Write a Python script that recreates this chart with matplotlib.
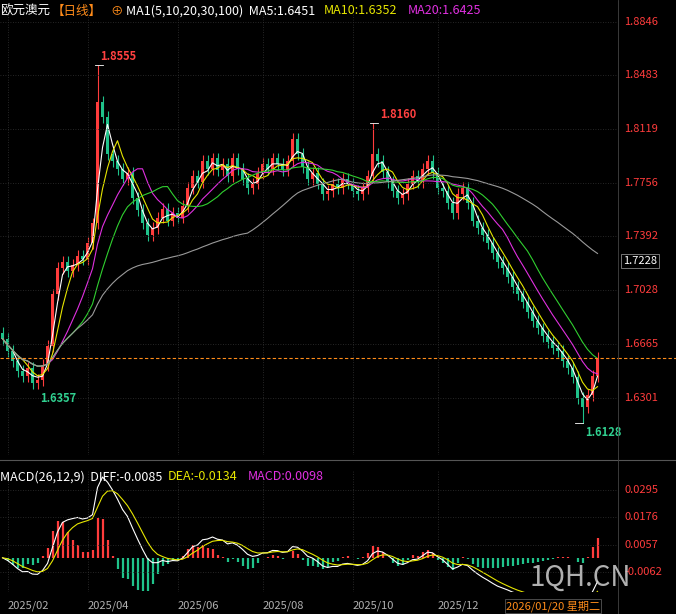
import matplotlib
matplotlib.use("Agg")
import matplotlib.pyplot as plt
import numpy as np
import pandas as pd

plt.rcParams['font.family'] = ['Noto Sans CJK SC', 'DejaVu Sans']

closes = [1.670,1.662,1.655,1.648,1.645,1.650,1.640,1.642,1.652,1.665,
          1.700,1.718,1.722,1.716,1.720,1.726,1.724,1.735,1.748,1.830,
          1.820,1.795,1.790,1.785,1.778,1.782,1.765,1.757,1.748,1.740,
          1.745,1.752,1.758,1.750,1.755,1.752,1.760,1.772,1.780,1.776,
          1.790,1.785,1.792,1.784,1.788,1.780,1.792,1.785,1.778,1.772,
          1.775,1.782,1.788,1.785,1.792,1.788,1.784,1.790,1.805,1.795,
          1.786,1.778,1.782,1.775,1.768,1.770,1.775,1.772,1.778,1.775,
          1.770,1.768,1.772,1.780,1.795,1.790,1.783,1.776,1.770,1.765,
          1.768,1.775,1.780,1.776,1.785,1.790,1.782,1.772,1.770,1.762,
          1.755,1.768,1.772,1.762,1.750,1.745,1.740,1.735,1.728,1.722,
          1.718,1.712,1.705,1.700,1.695,1.688,1.682,1.677,1.672,1.668,
          1.664,1.662,1.655,1.650,1.644,1.630,1.624,1.632,1.645,1.657]
special_highs = {19: 1.8555, 74: 1.8160}
special_lows = {7: 1.6357, 116: 1.6128}
month_labels = ['2025/02', '2025/04', '2025/06', '2025/08', '2025/10', '2025/12']
month_idx = [1, 17, 35, 52, 70, 87]

W, H = 676, 614
fig = plt.figure(figsize=(W/100, H/100), dpi=100, facecolor='black')
def ax_rect(x0, y0, x1, y1):
    return [x0/W, 1-y1/H, (x1-x0)/W, (y1-y0)/H]
ax = fig.add_axes(ax_rect(0, 8, 618, 455), facecolor='black')
ax2 = fig.add_axes(ax_rect(0, 470, 618, 592), facecolor='black')

c = np.array(closes)
n = len(c)
o = np.concatenate([[c[0]+0.004], c[:-1]])
hi = np.maximum(o, c) + 0.004
lo = np.minimum(o, c) - 0.004
for k, v in special_highs.items(): hi[k] = v
for k, v in special_lows.items(): lo[k] = v
x = np.arange(n)
up = c >= o
red, grn = '#ff3c3c', '#1fc28a'
for i in range(n):
    col = red if up[i] else grn
    ax.vlines(x[i], lo[i], hi[i], color=col, lw=0.8)
    ax.bar(x[i], max(abs(c[i]-o[i]), 0.0008), bottom=min(c[i], o[i]), width=0.6, color=col)

s = pd.Series(c)
for win, col in [(3, 'white'), (5, '#e6e600'), (10, '#e030e0'), (15, '#30d030'), (50, '#9a9a9a')]:
    ax.plot(x, s.rolling(win, min_periods=1).mean(), color=col, lw=0.8)

ylo, yhi = 1.8846-447*0.000656, 1.8846+14*0.000656
ax.set_ylim(ylo, yhi)
ax.set_xlim(-0.5, 618/5-0.5)
ticks = [1.8846, 1.8483, 1.8119, 1.7756, 1.7392, 1.7028, 1.6665, 1.6301]
for t in ticks:
    ax.axhline(t, color='#333333', lw=0.6, ls=(0, (1, 2)))
    ax.text(1.01, t, f'{t:.4f}', transform=ax.get_yaxis_transform(), color='#ff3c3c', fontsize=8, va='center')
ax.text(1.008, 1.7228, '1.7228', transform=ax.get_yaxis_transform(), color='#ffffff', fontsize=8, va='center',
        bbox=dict(fc='black', ec='#888888', lw=0.6, pad=1.5))
ax.axhline(c[-1], color='#ff8c1a', lw=0.8, ls=(0, (3, 2)))
ax.plot([618/5-0.5, 676/5], [c[-1]]*2, color='#ff8c1a', lw=0.8, ls=(0, (3, 2)), clip_on=False)
for mi in month_idx:
    ax.axvline(mi, color='#333333', lw=0.6, ls=(0, (1, 2)))
    ax2.axvline(mi, color='#333333', lw=0.6, ls=(0, (1, 2)))

ax.text(19.5, 1.8555+0.001, '1.8555', color='#ff4040', fontsize=8, fontweight='bold', va='bottom')
ax.plot([18.5, 20], [1.8555]*2, color='white', lw=0.6)
ax.text(75.5, 1.8160+0.001, '1.8160', color='#ff4040', fontsize=8, fontweight='bold', va='bottom')
ax.plot([73.5, 75], [1.8160]*2, color='white', lw=0.6)
ax.text(7.5, 1.6357-0.002, '1.6357', color='#30d090', fontsize=8, fontweight='bold', va='top')
ax.text(116.5, 1.6128-0.002, '1.6128', color='#30d090', fontsize=8, fontweight='bold', va='top')
ax.plot([114.5, 116], [1.6128]*2, color='white', lw=0.6)

# MACD
e1 = s.ewm(span=6, adjust=False).mean()
e2 = s.ewm(span=13, adjust=False).mean()
diff = e1 - e2
dea = diff.ewm(span=4.5, adjust=False).mean()
macd = 2*(diff-dea)
ax2.vlines(x, 0, macd, colors=np.where(macd >= 0, red, grn), lw=1.6)
ax2.plot(x, diff, color='white', lw=0.8)
ax2.plot(x, dea, color='#e6e600', lw=0.8)
ax2.set_xlim(ax.get_xlim())
ax2.set_ylim(-0.0062-20*0.000435, 0.0295+20*0.000435)
for t in [0.0295, 0.0176, 0.0057, -0.0062]:
    ax2.axhline(t, color='#333333', lw=0.6, ls=(0, (1, 2)))
    ax2.text(1.01, t, f'{t:.4f}', transform=ax2.get_yaxis_transform(), color='#ff3c3c', fontsize=8, va='center')

for a in (ax, ax2):
    a.set_xticks([]); a.set_yticks([])
    for sp in a.spines.values(): sp.set_visible(False)

fig.add_artist(plt.Line2D([0, 1], [1-460/H]*2, color='#555555', lw=0.8))
fig.add_artist(plt.Line2D([618/W]*2, [0, 1], color='#444444', lw=0.6))
for lab, mi in zip(month_labels, month_idx):
    fig.text((mi*5+2.5)/W, 1-606/H, lab, color='#b0b0b0', fontsize=8, ha='left', va='center')
fig.text(506/W, 1-606/H, '2026/01/20 星期二', color='#ff8c1a', fontsize=8, va='center',
         bbox=dict(fc='black', ec='#555555', lw=0.6, pad=1))
fig.text(530/W, 1-578/H, '1QH.CN', color='#d0d0d0', fontsize=20, va='center', alpha=0.85)

def header(y, parts):
    xx = 0
    for t, col, w in parts:
        fig.text(xx/W, 1-y/H, t, color=col, fontsize=9, va='center')
        xx += w
header(11, [('欧元澳元', 'white', 52), ('【日线】', '#ff8c1a', 58), ('⊕', '#ff8c1a', 16),
            ('MA1(5,10,20,30,100)  MA5:1.6451', 'white', 198), ('MA10:1.6352', '#e6e600', 84),
            ('MA20:1.6425', '#e030e0', 80)])
header(477, [('MACD(26,12,9)  DIFF:-0.0085', 'white', 168), ('DEA:-0.0134', '#e6e600', 80),
             ('MACD:0.0098', '#e030e0', 80)])
fig.savefig('out.png', dpi=100, facecolor='black')
